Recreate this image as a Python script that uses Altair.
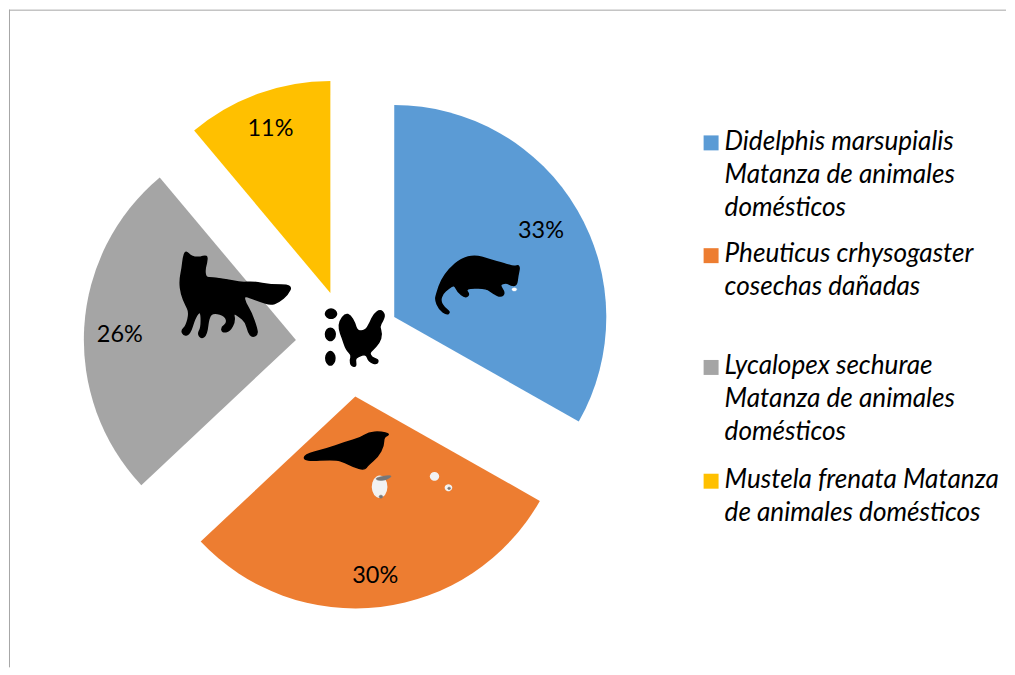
import altair as alt
import pandas as pd

# Data
species = ["Didelphis marsupialis", "Pheuticus crhysogaster", "Lycalopex sechurae", "Mustela frenata"]
shares = [33.2, 29.8, 25.9, 11.1]
labels = ["33%", "30%", "26%", "11%"]
colors = ["#5B9BD5", "#ED7D31", "#A5A5A5", "#FFC000"]
legend_lines = [
    ["Didelphis marsupialis", "Matanza de animales", "domésticos"],
    ["Pheuticus crhysogaster", "cosechas dañadas"],
    ["Lycalopex sechurae", "Matanza de animales", "domésticos"],
    ["Mustela frenata Matanza", "de animales domésticos"],
]

# Layout, in page pixels
OX, OY = 8, 8
W, H = 999, 659
RADIUS = 212.5
slice_apex = [(394, 316), (355, 395.5), (295.5, 339), (330, 292)]
label_center = [(541, 230), (375, 575), (119, 334), (270, 128)]
legend_first_y = [141, 253, 365, 479]
legend_swatch_y = [141.5, 254.5, 366.5, 480.5]
LEGEND_X, SWATCH_X, LINE_H = 725, 711.5, 33
LEGEND_FONT = "Lato"


def px(v):
    return alt.value(v - OX)


def py(v):
    return alt.value(v - OY)


layers = []

# Frame of the picture
layers.append(alt.Chart().mark_rule(color="#a6a6a6", strokeWidth=1).encode(
    x=alt.value(0.5), y=alt.value(0), y2=alt.value(H)))
layers.append(alt.Chart().mark_rule(color="#a6a6a6", strokeWidth=1).encode(
    x=alt.value(0), x2=alt.value(W), y=alt.value(0.5)))

# Exploded pie
start = 0
for name, share, color, (cx, cy) in zip(species, shares, colors, slice_apex):
    df = pd.DataFrame({"species": [name], "start": [start], "end": [start + share]})
    layers.append(alt.Chart(df).mark_arc(radius=RADIUS, color=color).encode(
        theta=alt.Theta("start:Q", scale=alt.Scale(domain=[0, 100])),
        theta2=alt.Theta2("end:Q"),
        x=px(cx), y=py(cy)))
    start += share


# Silhouettes: outlines in the pixels of a 3x enlargement, rounded with quadratic curves
def glyph(origin, outlines, fill, stroke_w=1.5):
    xs = [origin[0] + p[0] / 3 for o in outlines for p in o]
    ys = [origin[1] + p[1] / 3 for o in outlines for p in o]
    x0, x1, y0, y1 = min(xs), max(xs), min(ys), max(ys)
    cx, cy = (x0 + x1) / 2, (y0 + y1) / 2
    half = max(x1 - x0, y1 - y0) / 2
    d = ""
    for o in outlines:
        pts = [((origin[0] + a / 3 - cx) / half, (origin[1] + b / 3 - cy) / half) for a, b in o]
        n = len(pts)
        mid = lambda p, q: ((p[0] + q[0]) / 2, (p[1] + q[1]) / 2)
        m0 = mid(pts[-1], pts[0])
        d += f"M{m0[0]:.3f},{m0[1]:.3f}"
        for i in range(n):
            m = mid(pts[i], pts[(i + 1) % n])
            d += f"Q{pts[i][0]:.3f},{pts[i][1]:.3f},{m[0]:.3f},{m[1]:.3f}"
        d += "Z"
    return alt.Chart().mark_point(
        shape=d, size=(2 * half) ** 2, filled=True, opacity=1, fill=fill,
        stroke=fill, strokeWidth=stroke_w, strokeJoin="round").encode(x=px(cx), y=py(cy))


def blob(x, y, w, h):
    k = 0.7
    return [(x - w / 2, y), (x - w * k / 2, y - h * k / 2), (x, y - h / 2), (x + w * k / 2, y - h * k / 2),
            (x + w / 2, y), (x + w * k / 2, y + h * k / 2), (x, y + h / 2), (x - w * k / 2, y + h * k / 2)]


fox = [(45, 28), (60, 46), (85, 50), (110, 42), (108, 65), (102, 85), (105, 110), (125, 110), (165, 115),
       (210, 125), (250, 122), (300, 132), (365, 132), (352, 160), (325, 183), (300, 191), (270, 181),
       (235, 168), (220, 165), (224, 185), (242, 215), (258, 260), (261, 281), (245, 288), (234, 275),
       (226, 243), (205, 225), (188, 215), (193, 240), (178, 270), (155, 274), (153, 258), (170, 248),
       (166, 225), (130, 213), (114, 228), (108, 282), (92, 292), (82, 278), (92, 260), (92, 218),
       (85, 212), (72, 232), (58, 278), (40, 284), (32, 268), (47, 255), (57, 215), (45, 190), (32, 160),
       (27, 120), (35, 80), (38, 50)]
layers.append(glyph((170, 240), [fox], "#000000"))

hen = [(118, 150), (135, 128), (150, 133), (163, 155), (170, 180), (195, 180), (210, 155), (220, 130), (240, 116),
       (254, 130), (247, 150), (237, 165), (245, 190), (237, 215), (217, 237), (207, 245), (214, 260), (235, 266),
       (230, 280), (206, 272), (198, 248), (172, 257), (164, 265), (168, 287), (153, 285), (149, 268), (155, 252),
       (138, 237), (126, 200), (116, 175)]
layers.append(glyph((300, 270), [hen, blob(92, 128, 36, 30), blob(90, 190, 32, 40), blob(90, 262, 30, 44)], "#000000"))

bird = [(27, 101), (90, 86), (150, 65), (195, 52), (220, 35), (255, 33), (285, 40), (265, 48), (265, 75),
        (248, 107), (218, 133), (207, 148), (175, 138), (150, 125), (120, 115), (27, 121)]
layers.append(glyph((295, 420), [bird], "#000000"))
layers.append(glyph((295, 420), [blob(253, 198, 46, 68), blob(418, 167, 26, 24), blob(460, 201, 20, 18)], "#f2f2f2"))
layers.append(glyph((295, 420), [[(240, 170), (295, 162), (275, 178), (245, 180)], blob(257, 228, 12, 10),
                                 blob(462, 203, 10, 8)], "#777777", 0.5))

possum = [(36, 125), (48, 88), (73, 53), (108, 23), (150, 12), (190, 25), (240, 38), (265, 47), (285, 42),
          (278, 75), (275, 103), (258, 103), (245, 94), (222, 100), (240, 125), (228, 138), (205, 127),
          (185, 112), (135, 110), (122, 117), (133, 130), (120, 140), (98, 122), (88, 100), (70, 112),
          (52, 127), (45, 150), (57, 170), (75, 183), (65, 191), (42, 174), (30, 145)]
layers.append(glyph((425, 250), [possum], "#000000"))
layers.append(glyph((425, 250), [blob(268, 115, 16, 11)], "#ffffff", 0.3))

# Percent labels
for text, (x, y) in zip(labels, label_center):
    layers.append(alt.Chart().mark_text(font="Lato", fontSize=23.5, color="#000000").encode(
        x=px(x), y=py(y), text=alt.value(text)))

# Legend
for lines, color, y0, sy in zip(legend_lines, colors, legend_first_y, legend_swatch_y):
    layers.append(alt.Chart().mark_square(size=225, color=color, opacity=1).encode(x=px(SWATCH_X), y=py(sy)))
    for i, line in enumerate(lines):
        layers.append(alt.Chart().mark_text(
            font=LEGEND_FONT, fontSize=26.2, fontStyle="italic", align="left", color="#000000").encode(
            x=px(LEGEND_X), y=py(y0 + i * LINE_H), text=alt.value(line)))

chart = alt.layer(*layers).properties(
    width=W, height=H, padding=0, background="#ffffff"
).configure_view(stroke=None)

chart.save("out.html", embed_options={"renderer": "svg", "actions": False})
